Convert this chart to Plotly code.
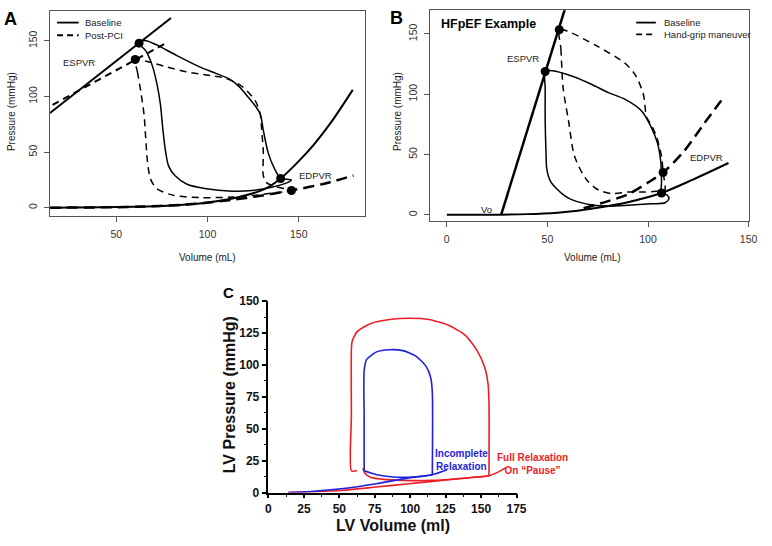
import plotly.graph_objects as go

# ---------------- Panel A data ----------------
A_espvr_base_v = [13.5, 80.0]
A_espvr_base_p = [85.0, 170.6]
A_espvr_pci_v = [15.1, 76.9]
A_espvr_pci_p = [92.4, 147.7]

A_base_loop_v = [62.5, 66.1, 69.7, 72.4, 74.2, 75.6, 76.9, 78.7, 82.3, 88.5, 99.3, 113.6, 124.4, 135.1, 144.1, 145.9,
                 142.3, 140.1, 136.9, 133.3, 130.6, 128.9, 126.2, 122.6, 117.2, 111.8, 104.7, 95.7, 83.2, 72.4, 67.0, 64.3, 62.5]
A_base_loop_p = [148, 141.2, 128, 110.5, 93, 69.6, 52, 37.4, 28.7, 21.3, 17, 14.9, 15.5, 18.4, 22.8, 24.9,
                 25.7, 26.3, 34.5, 49.1, 69.6, 84.2, 91.5, 98.8, 109.1, 115.8, 120.8, 126.6, 136.8, 146.2, 150, 150, 148]

A_pci_loop_v = [60.4, 61.6, 63.4, 65.2, 66.1, 67.0, 68.8, 72.4, 81.4, 95.7, 113.6, 125, 135, 146,
                137, 132, 130.5, 130.6, 129.7, 128.9, 126.2, 119, 110, 99.3, 88.5, 77.8, 67, 60.4]
A_pci_loop_p = [133.3, 122.2, 104.7, 84.2, 63.7, 43.3, 25.7, 17, 11.1, 9.1, 9.6, 11, 13, 15.5,
                19, 23, 30, 49, 70, 84, 96, 109, 116.4, 119.3, 122.2, 126.6, 131.5, 133.3]

A_edpvr_base_v = [13.5, 41.9, 59.9, 77.8, 95.7, 113.6, 131.5, 140.1, 149.5, 158.4, 167.4, 179.6]
A_edpvr_base_p = [0, 0.3, 0.9, 1.8, 3.8, 8.2, 16.9, 26.3, 41, 57, 76, 106]
A_edpvr_pci_v = [13.5, 60, 90, 113, 130, 146, 165, 180]
A_edpvr_pci_p = [0, 0.8, 3, 7, 11, 15.5, 22, 29]

A_es_v = [62.5, 60.4]
A_es_p = [148, 133.3]
A_ed_v = [140.1, 146]
A_ed_p = [26.3, 15.5]

A_xticks = [50, 100, 150]
A_yticks = [0, 50, 100, 150]

# ---------------- Panel B data ----------------
B_espvr_v = [27.0, 59.5]
B_espvr_p = [0, 175]

B_base_loop_v = [48.9, 48.9, 48.9, 49.3, 49.7, 51.5, 54.6, 58.5, 62.7, 72.5, 80.0, 90.1, 101.5, 108.5, 110.4, 109.5,
                 106.7, 106.7, 106.4, 104.7, 101.5, 96.6, 88.4, 80.3, 72.1, 62.4, 52.6, 48.9]
B_base_loop_p = [118.9, 105, 78, 52, 38, 28, 21.6, 16, 12.2, 8.1, 7.3, 8.0, 9.2, 10, 13.5, 16.5,
                 18.1, 27, 43.2, 59.5, 73, 86.5, 95.9, 101.4, 108.1, 114.9, 119.5, 118.9]

B_hg_loop_v = [55.9, 56.7, 57.8, 60.5, 63.5, 69.2, 75, 82, 90.1, 98.2, 104, 108.3,
               107.5, 106.7, 104.2, 101.5, 99.3, 97.7, 93.6, 88.6, 74.1, 59.4, 55.9]
B_hg_loop_p = [153.5, 137.8, 105.4, 78, 48.6, 29.7, 21, 17.6, 18.9, 18.9, 19.5, 20.3,
               35.1, 48.6, 64.9, 75, 81, 100, 116.2, 125.7, 140.5, 152.7, 153.5]

B_edpvr_base_v = [0, 20, 40, 55, 65, 75, 90, 106.7, 122, 140]
B_edpvr_base_p = [0, 0.1, 0.6, 1.8, 3.4, 5.8, 10.5, 18.1, 29, 43]
B_edpvr_hg_v = [68, 79, 90, 100.2, 107.5, 118, 127.9, 138.1]
B_edpvr_hg_p = [5.5, 10.8, 17, 27, 35.1, 53, 75.7, 98.6]

B_es_v = [48.9, 55.9]
B_es_p = [118.9, 153.5]
B_ed_v = [106.7, 107.5]
B_ed_p = [18.1, 35.1]

B_xticks = [0, 50, 100, 150]
B_yticks = [0, 50, 100, 150]

# ---------------- Panel C data ----------------
C_red_loop_v = [62.4, 58.5, 58.5, 58.5, 59.0, 62.4, 71.7, 85.5, 99.4, 113.3, 127.1, 138.7, 146.8, 152.6, 154.9, 155.6, 155.6]
C_red_loop_p = [17.1, 17.1, 60, 112, 118.4, 126, 132.4, 135.7, 136.7, 135.7, 131.1, 123.5, 112, 98, 85.3, 70, 13]
C_red_fill_v = [66.6, 68.2, 72, 80, 95, 115, 135, 155.6]
C_red_fill_p = [19.1, 15, 12, 10.5, 9.5, 9.5, 11, 13]
C_red_edpvr_v = [14, 30, 53, 76, 99, 122, 145, 155.6, 162, 167.6]
C_red_edpvr_p = [0, 0.5, 1.8, 4.3, 6.9, 9.4, 12, 13.2, 16, 19.5]

C_blue_loop_v = [67.5, 67.5, 67.5, 69.3, 76.3, 85.5, 94.8, 104, 111, 114.4, 115.6, 115.6]
C_blue_loop_p = [17, 60, 95.5, 104.4, 110.3, 112, 111.3, 107, 99.3, 90.4, 78.9, 14]
C_blue_fill_v = [67.5, 76.3, 87.8, 99.4, 108.6, 115.6]
C_blue_fill_p = [17, 14, 12.2, 12, 12.7, 14]
C_blue_edpvr_v = [14, 30, 53, 76, 99, 115.6, 126]
C_blue_edpvr_p = [0, 0.8, 3.1, 6.9, 11.5, 14, 17.8]

C_xticks = [0, 25, 50, 75, 100, 125, 150, 175]
C_yticks = [0, 25, 50, 75, 100, 125, 150]

RED = "#ee1c24"
BLUE = "#1f1fdd"
FONT = "Liberation Sans, Arial, sans-serif"
W, H = 772, 546


def px(x):
    return x / W


def py(y):
    return 1 - y / H


fig = go.Figure()


def line(v, p, xa, ya, width=1.5, dash="solid", color="black", spline=True, smoothing=0.8):
    fig.add_trace(go.Scatter(
        x=v, y=p, xaxis=xa, yaxis=ya, mode="lines", showlegend=False, hoverinfo="skip",
        line=dict(color=color, width=width, dash=dash,
                  shape="spline" if spline else "linear", smoothing=smoothing)))


def dots(v, p, xa, ya):
    fig.add_trace(go.Scatter(x=v, y=p, xaxis=xa, yaxis=ya, mode="markers", showlegend=False,
                             hoverinfo="skip", marker=dict(color="black", size=9)))


DASH = "7px,5px"
# Panel A
line(A_espvr_base_v, A_espvr_base_p, "x", "y", width=2, spline=False)
line(A_espvr_pci_v, A_espvr_pci_p, "x", "y", width=2, dash=DASH, spline=False)
line(A_edpvr_base_v, A_edpvr_base_p, "x", "y", width=2)
line(A_edpvr_pci_v, A_edpvr_pci_p, "x", "y", width=2.5, dash="11px,6px")
line(A_base_loop_v, A_base_loop_p, "x", "y", width=1.5)
line(A_pci_loop_v, A_pci_loop_p, "x", "y", width=1.5, dash=DASH)
dots(A_es_v, A_es_p, "x", "y")
dots(A_ed_v, A_ed_p, "x", "y")

# Panel B
line(B_espvr_v, B_espvr_p, "x2", "y2", width=2.5, spline=False)
line(B_edpvr_base_v, B_edpvr_base_p, "x2", "y2", width=2)
line(B_edpvr_hg_v, B_edpvr_hg_p, "x2", "y2", width=2.5, dash="11px,6px")
line(B_base_loop_v, B_base_loop_p, "x2", "y2", width=1.5)
line(B_hg_loop_v, B_hg_loop_p, "x2", "y2", width=1.5, dash=DASH)
dots(B_es_v, B_es_p, "x2", "y2")
dots(B_ed_v, B_ed_p, "x2", "y2")

# Panel C
line(C_red_edpvr_v, C_red_edpvr_p, "x3", "y3", color=RED, width=1.6)
line(C_red_fill_v, C_red_fill_p, "x3", "y3", color=RED, width=1.6)
line(C_red_loop_v, C_red_loop_p, "x3", "y3", color=RED, width=1.6, smoothing=0.6)
line(C_blue_edpvr_v, C_blue_edpvr_p, "x3", "y3", color=BLUE, width=1.6)
line(C_blue_fill_v, C_blue_fill_p, "x3", "y3", color=BLUE, width=1.6)
line(C_blue_loop_v, C_blue_loop_p, "x3", "y3", color=BLUE, width=1.6, smoothing=0.6)

tickfontAB = dict(family=FONT, size=10.5, color="#333")
boxax = dict(showline=True, mirror=True, linecolor="#555", linewidth=1, ticks="outside",
             ticklen=5, tickcolor="#555", showgrid=False, zeroline=False, tickfont=tickfontAB,
             ticklabelstandoff=3)


def cax(tlen):
    return dict(showline=True, linecolor="black", linewidth=1.5, ticks="outside", ticklen=tlen, tickwidth=1.5,
                tickcolor="black", showgrid=False, zeroline=False,
                tickfont=dict(family=FONT, size=12, color="#111", weight="bold"),
                minor=dict(dtick=12.5, tick0=0, ticks="outside", ticklen=3, tickwidth=1.2, tickcolor="black"))


fig.update_layout(
    width=W, height=H, margin=dict(l=0, r=0, t=0, b=0),
    paper_bgcolor="white", plot_bgcolor="white", showlegend=False,
    xaxis=dict(domain=[px(48), px(368)], range=[13.8, 186.2], tickvals=A_xticks, anchor="y", **boxax),
    yaxis=dict(domain=[py(215), py(4)], range=[-7.9, 177], tickvals=A_yticks, tickangle=-90, anchor="x", **boxax),
    xaxis2=dict(domain=[px(434), px(759)], range=[-8.5, 150.3], tickvals=B_xticks, anchor="y2", **boxax),
    yaxis2=dict(domain=[py(220), py(3.3)], range=[-5.4, 169.7], tickvals=B_yticks, tickangle=-90, anchor="x2", **boxax),
    xaxis3=dict(domain=[px(270), px(522.3)], range=[0, 175], tickvals=C_xticks, anchor="y3", **cax(4)),
    yaxis3=dict(domain=[py(498.3), py(302)], range=[0, 150], tickvals=C_yticks, anchor="x3", **cax(5)),
)

ann = []


def text(x, y, t, xref="paper", yref="paper", size=9.5, color="#222", weight="normal", angle=0,
         xanchor="center", yanchor="middle"):
    ann.append(dict(x=x, y=y, xref=xref, yref=yref, text=t, showarrow=False, textangle=angle,
                    xanchor=xanchor, yanchor=yanchor, borderpad=0,
                    font=dict(family=FONT, size=size, color=color, weight=weight)))


# panel letters
text(px(8), py(12), "A", size=18, color="black", weight="bold")
text(px(400), py(11), "B", size=18, color="black", weight="bold")
text(px(229), py(293), "C", size=15, color="black", weight="bold")

# axis titles
text(px(208), py(257), "Volume (mL)", size=10)
text(px(8.5), py(107.5), "Pressure (mmHg)", size=10, angle=-90)
text(px(600), py(257), "Volume (mL)", size=10)
text(px(401), py(107.5), "Pressure (mmHg)", size=10, angle=-90)
text(px(396.7), py(522), "LV Volume (ml)", size=16, color="#111", weight="bold", yanchor="top")
text(px(230), py(398.3), "LV Pressure (mmHg)", size=16, color="#111", weight="bold", angle=-90)

# panel A labels and legend
text(29.7, 130.4, "ESPVR", xref="x", yref="y")
text(159.3, 29.2, "EDPVR", xref="x", yref="y")
text(px(82), py(16), "Baseline", xanchor="left")
text(px(82), py(29), "Post-PCI", xanchor="left")

# panel B labels and legend
text(px(444), py(17), "HFpEF Example", size=12.5, color="black", weight="bold", xanchor="left")
text(19.7, 4.5, "Vo", xref="x2", yref="y2")
text(37.9, 129.7, "ESPVR", xref="x2", yref="y2")
text(129.2, 47.3, "EDPVR", xref="x2", yref="y2")
text(px(671), py(16), "Baseline", xanchor="left")
text(px(671), py(28), "Hand-grip maneuver", xanchor="left")

# panel C labels
text(136, 25.5, "Incomplete<br>Relaxation", xref="x3", yref="y3", size=10, color=BLUE, weight="bold")
text(px(538.3), py(468.9), "Full Relaxation<br>On \u201cPause\u201d", size=10, color=RED, weight="bold")

fig.update_layout(annotations=ann)

# legend line samples
shapes = [
    dict(type="line", xref="paper", yref="paper", x0=px(55), x1=px(77), y0=py(16), y1=py(16),
         line=dict(color="black", width=1.8)),
    dict(type="line", xref="paper", yref="paper", x0=px(55), x1=px(77), y0=py(29), y1=py(29),
         line=dict(color="black", width=1.8, dash="6px,4px")),
    dict(type="line", xref="paper", yref="paper", x0=px(644), x1=px(664), y0=py(16), y1=py(16),
         line=dict(color="black", width=1.8)),
    dict(type="line", xref="paper", yref="paper", x0=px(644), x1=px(664), y0=py(28), y1=py(28),
         line=dict(color="black", width=1.8, dash="6px,4px")),
]
fig.update_layout(shapes=shapes)

fig.write_html(
    "out.html", config={"displayModeBar": False},
    post_script=("document.documentElement.style.margin='0';document.body.style.margin='0';"
                 "document.body.style.padding='0';document.documentElement.style.overflow='hidden';"
                 "document.body.style.overflow='hidden';"))
